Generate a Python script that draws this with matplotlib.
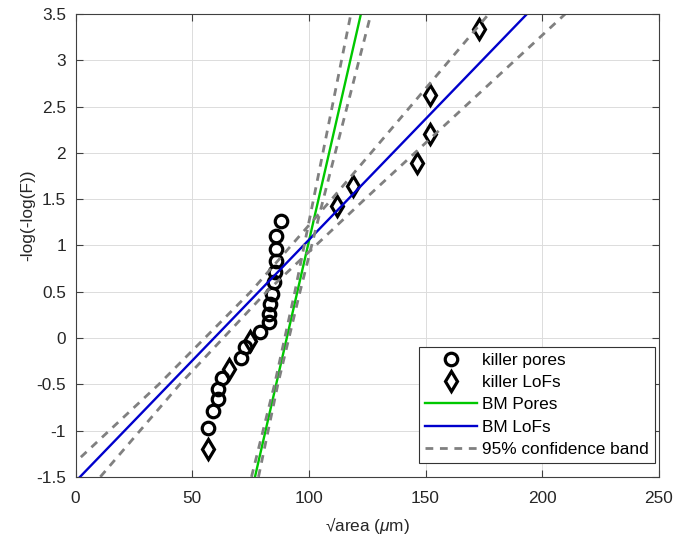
import matplotlib
matplotlib.use("Agg")
import matplotlib.pyplot as plt

plt.rcParams['font.family'] = ['Liberation Sans', 'DejaVu Sans']
plt.rcParams['mathtext.fontset'] = 'custom'
plt.rcParams['mathtext.rm'] = 'Liberation Sans'
plt.rcParams['mathtext.it'] = 'Liberation Sans:italic'
fs = 12.4

# killer defects: sqrt(area) [um] vs reduced variate -log(-log(F))
pores_x = [56.8, 58.7, 61.1, 61.1, 62.6, 71.1, 72.6, 79.0, 83.0, 83.0,
           83.3, 84.0, 85.0, 85.6, 85.9, 85.9, 85.9, 87.9]
pores_y = [-0.97, -0.79, -0.66, -0.55, -0.43, -0.22, -0.10, 0.07, 0.17, 0.26,
           0.37, 0.48, 0.60, 0.71, 0.83, 0.96, 1.10, 1.26]
lofs_x = [56.8, 65.8, 74.7, 111.9, 118.7, 146.2, 152.1, 152.1, 173.0]
lofs_y = [-1.20, -0.33, -0.03, 1.43, 1.64, 1.89, 2.20, 2.63, 3.34]

# fitted lines (end points)
bm_pores_x = [76.9, 122.3]
bm_pores_y = [-1.5, 3.5]
bm_lofs_x = [1.9, 193.5]
bm_lofs_y = [-1.5, 3.5]

# 95% bands, x position at each y level
band_y = [-1.5, -0.5, 0.5, 1.5, 2.5, 3.5]
pores_band_lo = [75.4, 85.3, 94.0, 102.0, 110.0, 118.0]
pores_band_hi = [78.4, 86.7, 96.2, 106.2, 116.4, 126.6]
lofs_band_lo = [-6.8, 35.7, 75.1, 109.8, 143.5, 177.1]
lofs_band_hi = [10.6, 44.7, 81.9, 124.0, 166.9, 209.9]

green = '#00c800'
blue = '#0000cc'
gray = '#808080'

fig = plt.figure(figsize=(6.75, 5.37), dpi=100)
ax = fig.add_axes([0.112, 0.112, 0.864, 0.862])

ax.plot(pores_x, pores_y, 'o', ls='none', ms=9, mew=2.3, mfc='none', mec='k',
        label='killer pores')
ax.plot(lofs_x, lofs_y, 'd', ls='none', ms=10, mew=2.3, mfc='none', mec='k',
        label='killer LoFs')
ax.plot(bm_pores_x, bm_pores_y, color=green, lw=1.7, label='BM Pores')
ax.plot(bm_lofs_x, bm_lofs_y, color=blue, lw=1.7, label='BM LoFs')
for bx, lab in [(pores_band_lo, '95% confidence band'), (pores_band_hi, None),
                (lofs_band_lo, None), (lofs_band_hi, None)]:
    ax.plot(bx, band_y, color=gray, lw=2.0, ls=(0, (2.8, 2.4)), label=lab)

ax.set_xlim(0, 250)
ax.set_ylim(-1.5, 3.5)
ax.set_xticks([0, 50, 100, 150, 200, 250])
ax.set_yticks([-1.5, -1, -0.5, 0, 0.5, 1, 1.5, 2, 2.5, 3, 3.5])
ax.set_yticklabels(['-1.5', '-1', '-0.5', '0', '0.5', '1', '1.5', '2', '2.5', '3', '3.5'])
ax.grid(True, color='#dcdcdc', lw=0.7)
ax.set_axisbelow(True)
ax.tick_params(direction='in', length=5, width=0.8, color='0.25',
               top=True, right=True, labelsize=fs, labelcolor='0.15', pad=7)
ax.tick_params(axis='x', pad=10)
for s in ax.spines.values():
    s.set_color('0.25')
    s.set_linewidth(0.8)

ax.set_xlabel('√area ($\\mu$m)', fontsize=fs, color='0.15', labelpad=7)
ax.set_ylabel('-log(-log(F))', fontsize=fs, color='0.15')
ax.yaxis.set_label_coords(-0.07, 0.566)

leg = ax.legend(loc='lower right', bbox_to_anchor=(0.993, 0.030), borderaxespad=0,
                fancybox=False, framealpha=1, edgecolor='0.2', handlelength=3.0,
                handletextpad=0.3, labelspacing=0.42, borderpad=0.35, fontsize=fs)
leg.get_frame().set_linewidth(0.8)

fig.savefig('out.png', dpi=100)
